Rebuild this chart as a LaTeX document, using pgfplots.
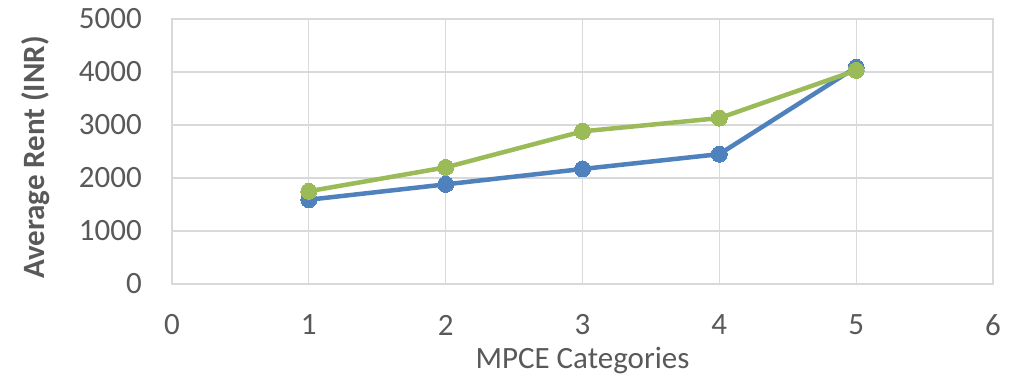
\documentclass[border=0pt]{standalone}
\usepackage{pgfplots}
\pgfplotsset{compat=1.18}
\usepackage{fontspec}
\setmainfont{Carlito}
\definecolor{txt}{HTML}{595959}
\definecolor{gridc}{HTML}{D9D9D9}
\definecolor{sblue}{HTML}{4F81BD}
\definecolor{sgreen}{HTML}{9BBB59}
\begin{document}
\begin{tikzpicture}[x=1pt,y=1pt]
\begin{axis}[
  at={(0,0)}, anchor=south west,
  scale only axis,
  width=821pt, height=265pt,
  xmin=0, xmax=6, ymin=0, ymax=5000,
  xtick={0,1,2,3,4,5,6},
  ytick={0,1000,2000,3000,4000,5000},
  grid=major,
  major grid style={gridc, line width=1.3pt},
  axis line style={gridc, line width=1.3pt},
  tick style={draw=none},
  /pgf/number format/assume math mode=true,
  /pgf/number format/set thousands separator={},
  ticklabel style={font=\fontsize{31}{36}\selectfont, text=txt, inner sep=0pt},
  xticklabel style={anchor=center, yshift=-41pt},
  yticklabel style={anchor=east, xshift=-30pt},
  xlabel={MPCE Categories},
  ylabel={\textbf{Average Rent (INR)}},
  label style={font=\fontsize{31}{36}\selectfont, text=txt, inner sep=0pt},
  xlabel style={at={(axis description cs:0.5,-0.287)}, anchor=center},
  ylabel style={at={(axis description cs:-0.1656,0.477)}, anchor=center},
  clip=false,
]
\addplot[sblue, line width=4.5pt, mark=*, mark size=8pt, mark options={fill=sblue, draw=sblue, line width=0pt}]
  coordinates {(1,1590) (2,1880) (3,2170) (4,2450) (5,4090)};
\addplot[sgreen, line width=4.5pt, mark=*, mark size=8pt, mark options={fill=sgreen, draw=sgreen, line width=0pt}]
  coordinates {(1,1750) (2,2200) (3,2880) (4,3130) (5,4030)};
\end{axis}
\pgfresetboundingbox
\path[use as bounding box] (-172pt,-95pt) rectangle (838pt,284pt);
\end{tikzpicture}
\end{document}
